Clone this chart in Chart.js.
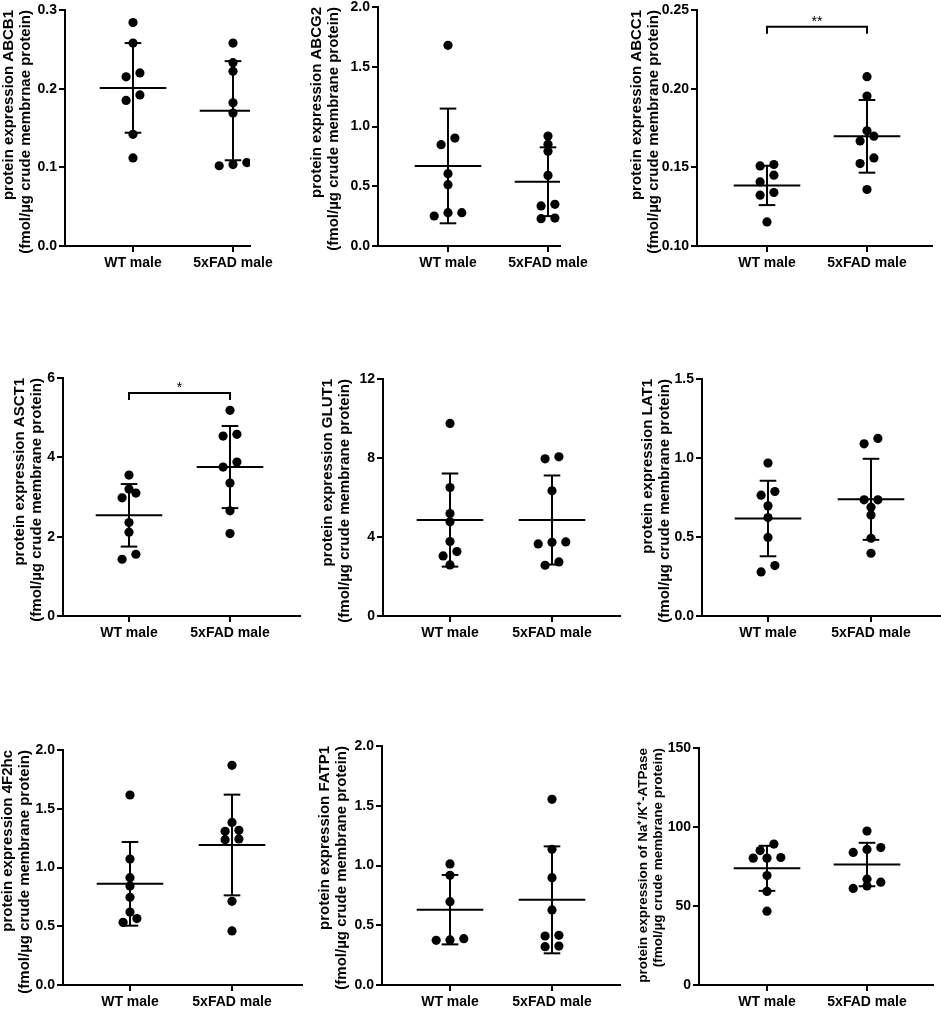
<!DOCTYPE html>
<html>
<head>
<meta charset="utf-8">
<script src="https://cdn.jsdelivr.net/npm/chart.js@4.4.1/dist/chart.umd.min.js"></script>
<style>
  html, body { margin: 0; padding: 0; background: #fff; overflow: hidden; }
  #wrap { position: relative; width: 941px; height: 1009px; }
  #wrap canvas { position: absolute; }
</style>
</head>
<body>
<div id="wrap"></div>
<script>
const groups = ['WT male', '5xFAD male'];
const unitLine = '(fmol/µg crude membrane protein)';

// ABCB1
const abcb1WT   = [0.284, 0.258, 0.215, 0.220, 0.185, 0.192, 0.142, 0.112];
const abcb1FAD  = [0.258, 0.233, 0.222, 0.182, 0.169, 0.102, 0.106, 0.1035];
const abcb1Mean = [0.201, 0.172];
const abcb1SD   = [0.057, 0.063];
const abcb1Ticks = [0, 0.1, 0.2, 0.3];

// ABCG2
const abcg2WT   = [1.679, 0.903, 0.848, 0.605, 0.513, 0.251, 0.279, 0.279];
const abcg2FAD  = [0.920, 0.851, 0.792, 0.591, 0.335, 0.349, 0.229, 0.234];
const abcg2Mean = [0.670, 0.538];
const abcg2SD   = [0.480, 0.288];
const abcg2Ticks = [0, 0.5, 1.0, 1.5, 2.0];

// ABCC1
const abcc1WT   = [0.1509, 0.1518, 0.1450, 0.1407, 0.1340, 0.1323, 0.1153];
const abcc1FAD  = [0.2076, 0.1953, 0.1698, 0.1732, 0.1668, 0.1560, 0.1524, 0.1359];
const abcc1Mean = [0.1385, 0.1697];
const abcc1SD   = [0.0125, 0.0231];
const abcc1Ticks = [0.10, 0.15, 0.20, 0.25];
const abcc1Sig = 0.2394;
const abcc1Stars = '**';

// ASCT1
const asct1WT   = [3.552, 3.199, 3.098, 2.980, 2.357, 2.113, 1.431, 1.557];
const asct1FAD  = [5.185, 4.579, 4.537, 3.880, 3.754, 3.350, 2.652, 2.079];
const asct1Mean = [2.538, 3.755];
const asct1SD   = [0.788, 1.035];
const asct1Ticks = [0, 2, 4, 6];
const asct1Sig = 5.62;
const asct1Stars = '*';

// GLUT1
const glut1WT   = [9.752, 6.507, 5.188, 4.766, 3.769, 3.262, 3.042, 2.586];
const glut1FAD  = [7.960, 8.062, 6.338, 3.735, 3.752, 3.651, 2.569, 2.738];
const glut1Mean = [4.858, 4.860];
const glut1SD   = [2.358, 2.255];
const glut1Ticks = [0, 4, 8, 12];

// LAT1
const lat1WT   = [0.968, 0.788, 0.765, 0.697, 0.623, 0.497, 0.279, 0.319];
const lat1FAD  = [1.090, 1.124, 0.735, 0.735, 0.689, 0.640, 0.492, 0.397];
const lat1Mean = [0.617, 0.7385];
const lat1SD   = [0.239, 0.2565];
const lat1Ticks = [0, 0.5, 1.0, 1.5];

// 4F2hc
const f2hcWT   = [1.617, 1.072, 0.913, 0.843, 0.746, 0.621, 0.533, 0.565];
const f2hcFAD  = [1.870, 1.384, 1.308, 1.316, 1.237, 1.243, 0.712, 0.460];
const f2hcMean = [0.861, 1.1915];
const f2hcSD   = [0.356, 0.4285];
const f2hcTicks = [0, 0.5, 1.0, 1.5, 2.0];

// FATP1
const fatp1WT   = [1.013, 0.918, 0.697, 0.374, 0.388, 0.377];
const fatp1FAD  = [1.554, 1.135, 0.898, 0.628, 0.410, 0.416, 0.321, 0.326];
const fatp1Mean = [0.6305, 0.7125];
const fatp1SD   = [0.2905, 0.4475];
const fatp1Ticks = [0, 0.5, 1.0, 1.5, 2.0];

// Na+/K+-ATPase
const nakWT   = [89.2, 85.1, 80.7, 80.3, 80.3, 69.3, 59.2, 46.7];
const nakFAD  = [97.4, 85.8, 87.0, 83.9, 67.0, 65.1, 61.1, 62.7];
const nakMean = [73.85, 76.25];
const nakSD   = [14.25, 13.75];
const nakTicks = [0, 50, 100, 150];

Chart.defaults.font.family = 'Arial, "Liberation Sans", sans-serif';
Chart.defaults.color = '#000';

// where each plot sits on the page (px); titleX = centre of first title line
const panels = [
  { title: ['protein expression ABCB1', '(fmol/µg crude membrnae protein)'], wt: abcb1WT, fad: abcb1FAD, mean: abcb1Mean, sd: abcb1SD, ticks: abcb1Ticks, dec: 1,
    axisX: 65, top: 10, bottom: 246, end: 250, cat0: 133, cat1: 233, titleX: 9.5 },
  { title: ['protein expression ABCG2', unitLine], wt: abcg2WT, fad: abcg2FAD, mean: abcg2Mean, sd: abcg2SD, ticks: abcg2Ticks, dec: 1,
    axisX: 378, top: 7, bottom: 246, end: 560, cat0: 448, cat1: 548, titleX: 317 },
  { title: ['protein expression ABCC1', unitLine], wt: abcc1WT, fad: abcc1FAD, mean: abcc1Mean, sd: abcc1SD, ticks: abcc1Ticks, dec: 2,
    axisX: 697, top: 10, bottom: 246, end: 932, cat0: 767, cat1: 867, titleX: 637, sig: abcc1Sig, stars: abcc1Stars },
  { title: ['protein expression ASCT1', unitLine], wt: asct1WT, fad: asct1FAD, mean: asct1Mean, sd: asct1SD, ticks: asct1Ticks, dec: 0,
    axisX: 63, top: 378, bottom: 616, end: 300, cat0: 129, cat1: 230, titleX: 20, sig: asct1Sig, stars: asct1Stars },
  { title: ['protein expression GLUT1', unitLine], wt: glut1WT, fad: glut1FAD, mean: glut1Mean, sd: glut1SD, ticks: glut1Ticks, dec: 0,
    axisX: 383, top: 379, bottom: 616, end: 620, cat0: 450, cat1: 552, titleX: 328 },
  { title: ['protein expression LAT1', unitLine], wt: lat1WT, fad: lat1FAD, mean: lat1Mean, sd: lat1SD, ticks: lat1Ticks, dec: 1,
    axisX: 702, top: 379, bottom: 616, end: 940, cat0: 768, cat1: 871, titleX: 648 },
  { title: ['protein expression 4F2hc', unitLine], wt: f2hcWT, fad: f2hcFAD, mean: f2hcMean, sd: f2hcSD, ticks: f2hcTicks, dec: 1,
    axisX: 63, top: 750, bottom: 985, end: 302, cat0: 130, cat1: 232, titleX: 8.5 },
  { title: ['protein expression FATP1', unitLine], wt: fatp1WT, fad: fatp1FAD, mean: fatp1Mean, sd: fatp1SD, ticks: fatp1Ticks, dec: 1,
    axisX: 382, top: 746, bottom: 985, end: 620, cat0: 450, cat1: 552, titleX: 325 },
  { title: ['protein expression of Na⁺/K⁺-ATPase', unitLine], wt: nakWT, fad: nakFAD, mean: nakMean, sd: nakSD, ticks: nakTicks, dec: 0,
    axisX: 699, top: 748, bottom: 985, end: 933, cat0: 767, cat1: 867, titleX: 643, titleSize: 13.5 }
];

const TITLE_SIZE = 15;
const TITLE_LH = 1.1;
const DOT_STEP = 13.8;   // px between side-by-side dots
const SWARM_GAP = 6.9;   // px, closer than this -> spread sideways
const MEAN_HALF = 33.3;
const CAP_HALF = 8.3;

// simple scatter-dot spreading like the prism plots
function swarm(values, pxPerUnit, step) {
  const order = values.map((v, i) => i).sort((a, b) => values[a] - values[b]);
  const offs = values.map(() => 0);
  let cluster = [];
  const flush = () => {
    cluster.forEach((idx, k) => { offs[idx] = (k - (cluster.length - 1) / 2) * step; });
    cluster = [];
  };
  order.forEach(idx => {
    if (cluster.length && (values[idx] - values[cluster[0]]) * pxPerUnit > SWARM_GAP) flush();
    cluster.push(idx);
  });
  flush();
  return offs;
}

function line(points) {
  return { data: points, showLine: true, borderColor: '#000', borderWidth: 2, pointRadius: 0, fill: false, order: 2 };
}

const starPlugin = {
  id: 'stars',
  afterDatasetsDraw(chart, args, opts) {
    if (!opts || !opts.text) return;
    const {ctx, scales} = chart;
    ctx.save();
    ctx.fillStyle = '#000';
    ctx.font = '14px Arial, "Liberation Sans", sans-serif';
    ctx.textAlign = 'center';
    ctx.textBaseline = 'alphabetic';
    ctx.fillText(opts.text, scales.x.getPixelForValue(0.5), scales.y.getPixelForValue(opts.y) - 1);
    ctx.restore();
  }
};

const wrap = document.getElementById('wrap');

panels.forEach(p => {
  const tSize = p.titleSize || TITLE_SIZE;
  const left = Math.round(p.titleX - tSize * TITLE_LH / 2);
  const top = p.top - 12;
  const yWidth = p.axisX - left;
  const width = p.end - left + 45;
  const height = p.bottom - top + 30;

  const canvas = document.createElement('canvas');
  canvas.width = width;
  canvas.height = height;
  canvas.style.left = left + 'px';
  canvas.style.top = top + 'px';
  wrap.appendChild(canvas);

  const unit = p.cat1 - p.cat0;
  const xMin = -(p.cat0 - p.axisX) / unit;
  const xMax = 1 + (p.end - p.cat1) / unit;
  const yMin = p.ticks[0];
  const yMax = p.ticks[p.ticks.length - 1];
  const pxPerUnit = (p.bottom - p.top) / (yMax - yMin);

  const datasets = [];
  [p.wt, p.fad].forEach((vals, g) => {
    const offs = swarm(vals, pxPerUnit, DOT_STEP / unit);
    datasets.push({
      data: vals.map((v, i) => ({ x: g + offs[i], y: v })),
      pointRadius: 4.6, pointBackgroundColor: '#000', pointBorderWidth: 0, showLine: false, order: 1
    });
    const m = p.mean[g], lo = m - p.sd[g], hi = m + p.sd[g];
    const mh = MEAN_HALF / unit, ch = CAP_HALF / unit;
    datasets.push(line([{ x: g - mh, y: m }, { x: g + mh, y: m }]));
    datasets.push(line([{ x: g, y: lo }, { x: g, y: hi }]));
    datasets.push(line([{ x: g - ch, y: lo }, { x: g + ch, y: lo }]));
    datasets.push(line([{ x: g - ch, y: hi }, { x: g + ch, y: hi }]));
  });

  if (p.sig !== undefined) {
    const drop = 7 / pxPerUnit;
    datasets.push(line([{ x: 0, y: p.sig - drop }, { x: 0, y: p.sig }, { x: 1, y: p.sig }, { x: 1, y: p.sig - drop }]));
  }

  new Chart(canvas, {
    type: 'scatter',
    data: { datasets },
    options: {
      responsive: false,
      animation: false,
      events: [],
      layout: { padding: { left: 0, top: 12, right: 45, bottom: 0 } },
      plugins: {
        legend: { display: false },
        tooltip: { enabled: false },
        stars: p.sig !== undefined ? { y: p.sig, text: p.stars } : {}
      },
      scales: {
        x: {
          type: 'linear',
          min: xMin,
          max: xMax,
          afterBuildTicks: s => { s.ticks = [{ value: 0 }, { value: 1 }]; },
          afterFit: s => { s.height = 30; },
          ticks: {
            callback: v => groups[v],
            color: '#000',
            font: { size: 14, weight: 'bold' },
            padding: 3,
            maxRotation: 0
          },
          grid: { drawOnChartArea: false, drawTicks: true, tickLength: 6, color: '#000', lineWidth: 2 },
          border: { display: true, color: '#000', width: 2 }
        },
        y: {
          type: 'linear',
          min: yMin,
          max: yMax,
          afterBuildTicks: s => { s.ticks = p.ticks.map(v => ({ value: v })); },
          afterFit: s => { s.width = yWidth; },
          ticks: {
            callback: v => v.toFixed(p.dec),
            color: '#000',
            font: { size: 14, weight: 'bold' },
            padding: 2
          },
          title: {
            display: true,
            text: p.title,
            align: 'end',
            color: '#000',
            font: { size: tSize, weight: 'bold', lineHeight: TITLE_LH },
            padding: 0
          },
          grid: { drawOnChartArea: false, drawTicks: true, tickLength: 6, color: '#000', lineWidth: 2 },
          border: { display: true, color: '#000', width: 2 }
        }
      }
    },
    plugins: [starPlugin]
  });
});
</script>
</body>
</html>
